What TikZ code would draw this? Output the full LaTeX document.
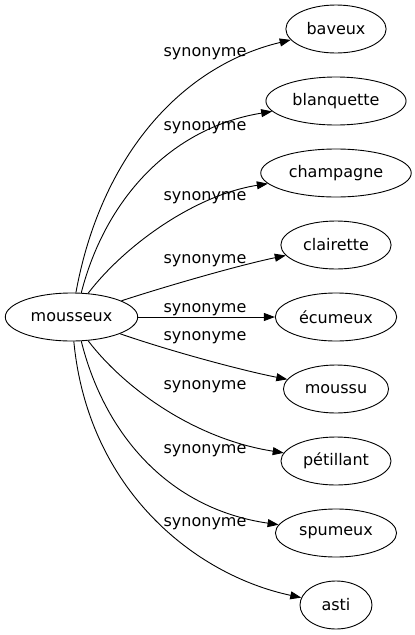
\documentclass[tikz,border=0pt]{standalone}
\usepackage{fontspec}
\setmainfont{DejaVu Sans}
\usetikzlibrary{arrows.meta,shapes.geometric}

\begin{document}
\begin{tikzpicture}[x=1pt, y=-1pt, >={Triangle[length=11pt,width=8pt]},
    word/.style={draw, ellipse, line width=0.9pt, inner xsep=6pt, inner ysep=2pt,
        minimum width=72pt, minimum height=48pt, font=\fontsize{16}{19}\selectfont},
    syn/.style={->, line width=0.9pt},
    lbl/.style={anchor=base, font=\fontsize{16}{19}\selectfont}]

    %% Background
    \draw[draw=none] (0,0) rectangle (415,635);

    % Words
    \node[word] (mousseux) at (71.5,317) {mousseux};

    \node[word] (baveux) at (336,29) {baveux};
    \node[word] (blanquette) at (336,101) {blanquette};
    \node[word] (champagne) at (336,173) {champagne};
    \node[word] (clairette) at (336,245) {clairette};
    \node[word] (ecumeux) at (336,317) {écumeux};
    \node[word] (moussu) at (336,389) {moussu};
    \node[word] (petillant) at (336,461) {pétillant};
    \node[word] (spumeux) at (336,533) {spumeux};
    \node[word] (asti) at (336,605) {asti};

    % Edges
    \draw[syn] (mousseux) .. controls (100,160) and (178,67) .. (baveux);
    \draw[syn] (mousseux.68) .. controls (105,200) and (170,128) .. (blanquette);
    \draw[syn] (mousseux.55) .. controls (125,245) and (195,195) .. (champagne);
    \draw[syn] (mousseux) .. controls (170,285) and (240,265) .. (clairette);
    \draw[syn] (mousseux) -- (ecumeux);
    \draw[syn] (mousseux) .. controls (170,351) and (240,370) .. (moussu);
    \draw[syn] (mousseux.-55) .. controls (125,389) and (195,439) .. (petillant);
    \draw[syn] (mousseux.-68) .. controls (105,436) and (170,509) .. (spumeux);
    \draw[syn] (mousseux) .. controls (88,490) and (195,575) .. (asti);

    % Labels
    \draw
    (205,56) node[lbl] (s1) {synonyme}
    (205,130) node[lbl] (s2) {synonyme}
    (205,200) node[lbl] (s3) {synonyme}
    (205,263) node[lbl] (s4) {synonyme}
    (205,312) node[lbl] (s5) {synonyme}
    (205,340) node[lbl] (s6) {synonyme}
    (205,389) node[lbl] (s7) {synonyme}
    (205,453) node[lbl] (s8) {synonyme}
    (205,526) node[lbl] (s9) {synonyme}
    ;

\end{tikzpicture}
\end{document}
